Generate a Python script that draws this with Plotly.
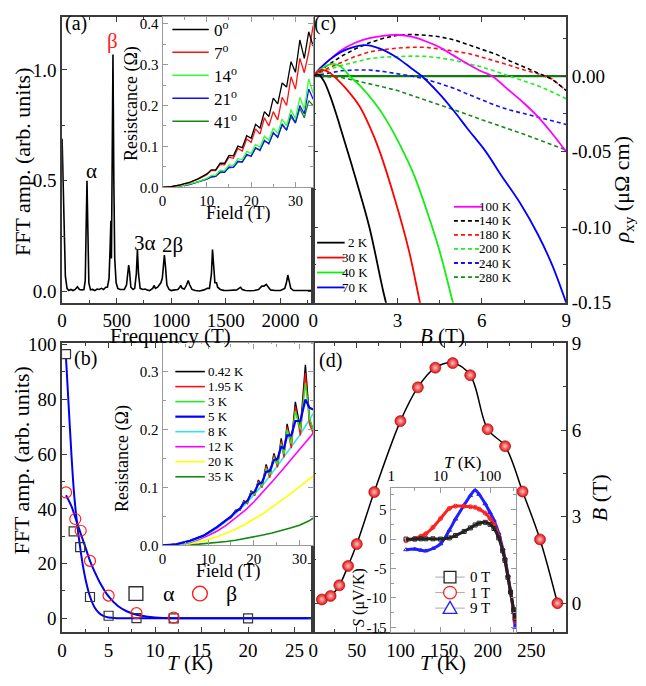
import plotly.graph_objects as go

W, H = 646, 686
def px(x): return x / W
def py(y): return 1 - y / H

FONT = "Liberation Serif, Times New Roman, Times, serif"

# ---------------- DATA ----------------
# (a) FFT spectrum
fft_freq = [0, 10, 20, 30, 45, 60, 80, 100, 120, 140, 160, 180, 200,
            212, 220, 228, 236, 245, 260, 280, 300, 320, 340, 360, 380, 400, 415,
            430, 440, 447, 452, 458, 466, 474, 482, 495, 510, 530, 550, 570, 590,
            602, 610, 618, 630, 650, 665, 680, 690, 700, 715, 740, 760, 780, 800,
            830, 842, 855, 875, 890, 905, 918, 928, 937, 946, 960, 980, 1000, 1030, 1060,
            1078, 1087, 1100, 1120, 1140, 1155, 1170, 1190, 1220, 1260, 1300, 1330, 1350,
            1368, 1378, 1388, 1400, 1415, 1425, 1450, 1480, 1520, 1560, 1600, 1620, 1635,
            1650, 1680, 1720, 1760, 1800, 1830, 1850, 1870, 1890, 1910, 1950, 2000, 2040,
            2055, 2068, 2080, 2095, 2120, 2160, 2200, 2240, 2280]
fft_amp = [0.69, 0.45, 0.2, 0.07, 0.015, 0.005, 0.01, 0.005, 0.01, 0.022, 0.01, 0.008, 0.01,
           0.05, 0.28, 0.5, 0.28, 0.04, 0.008, 0.01, 0.005, 0.012, 0.01, 0.015, 0.01, 0.02, 0.02,
           0.06, 0.2, 0.32, 0.15, 0.5, 1.07, 0.5, 0.15, 0.04, 0.015, 0.01, 0.01, 0.01, 0.03,
           0.09, 0.12, 0.09, 0.02, 0.01, 0.015, 0.08, 0.19, 0.08, 0.015, 0.01, 0.012, 0.008, 0.005,
           0.015, 0.028, 0.015, 0.02, 0.03, 0.04, 0.06, 0.12, 0.165, 0.12, 0.03, 0.01, 0.005, 0.008, 0.01,
           0.02, 0.028, 0.015, 0.012, 0.03, 0.05, 0.03, 0.01, 0.005, 0.003, 0.008, 0.015, 0.015,
           0.08, 0.19, 0.12, 0.04, 0.04, 0.02, 0.01, 0.006, 0.005, 0.005, 0.008, 0.015, 0.02,
           0.01, 0.005, 0.004, 0.005, 0.01, 0.025, 0.025, 0.033, 0.02, 0.008, 0.005, 0.005, 0.015,
           0.04, 0.075, 0.05, 0.015, 0.005, 0.004, 0.006, 0.005, 0.005]
fft_labels = ["α", "β", "3α", "2β"]
fft_label_x = [265, 466, 757, 1015]
fft_label_y = [0.545, 1.13, 0.22, 0.21]

# (a) inset: resistance vs field at several angles
ang_field = [0, 2, 4, 6, 8, 10, 11, 12, 13, 14, 15, 16, 17, 18, 19, 20, 21, 22,
             23, 24, 25, 26, 27, 28, 29, 30, 31, 32, 33, 34]
r_0deg = [0, 0.002, 0.006, 0.012, 0.021, 0.033, 0.043, 0.043, 0.059, 0.059, 0.078, 0.077,
          0.101, 0.097, 0.126, 0.12, 0.154, 0.145, 0.185, 0.173, 0.218, 0.204, 0.255, 0.245,
          0.307, 0.281, 0.36, 0.315, 0.38, 0.345]
r_7deg = [0, 0.002, 0.006, 0.011, 0.02, 0.031, 0.041, 0.041, 0.056, 0.055, 0.074, 0.071,
          0.095, 0.089, 0.118, 0.11, 0.143, 0.13, 0.17, 0.15, 0.185, 0.165, 0.22, 0.2,
          0.27, 0.24, 0.315, 0.28, 0.33, 0.395]
r_14deg = [0, 0.001, 0.004, 0.008, 0.014, 0.022, 0.029, 0.03, 0.042, 0.041, 0.055, 0.054,
           0.07, 0.068, 0.088, 0.083, 0.105, 0.098, 0.125, 0.115, 0.145, 0.132, 0.167, 0.15,
           0.19, 0.168, 0.22, 0.19, 0.265, 0.23]
r_21deg = [0, 0.001, 0.0035, 0.007, 0.013, 0.02, 0.026, 0.027, 0.038, 0.037, 0.05, 0.049,
           0.064, 0.062, 0.081, 0.076, 0.097, 0.09, 0.115, 0.106, 0.134, 0.122, 0.155, 0.14,
           0.178, 0.158, 0.2, 0.18, 0.24, 0.215]
r_41deg = [0, 0.001, 0.0035, 0.007, 0.013, 0.02, 0.025, 0.027, 0.036, 0.037, 0.048, 0.049,
           0.062, 0.062, 0.078, 0.077, 0.095, 0.092, 0.113, 0.108, 0.132, 0.124, 0.152, 0.14,
           0.172, 0.157, 0.193, 0.17, 0.212, 0.2]
ang_labels = ["0<sup>o</sup>", "7<sup>o</sup>", "14<sup>o</sup>", "21<sup>o</sup>", "41<sup>o</sup>"]

# (b) FFT amplitude vs temperature
alpha_T = [0.42, 1.24, 1.94, 3.0, 5.0, 8.0, 12.0, 20.0]
alpha_amp = [96.5, 31.8, 26.0, 7.8, 0.95, 0.1, 0.0, 0.0]
beta_T = [0.42, 1.42, 2.0, 3.0, 5.0, 8.0, 12.0]
beta_amp = [46.0, 36.3, 32.0, 21.0, 8.3, 1.9, 0.3]
alpha_fit_T = [0.42, 0.7, 1.0, 1.3, 1.6, 1.9, 2.2, 2.6, 3.0, 3.5, 4.0, 4.5, 5.0, 6.0, 8.0, 27.0]
alpha_fit = [95, 78, 60, 45, 35, 27, 20, 13, 8, 4, 1.9, 0.8, 0.3, 0.05, 0, 0]
beta_fit_T = [0.42, 1.0, 1.5, 2.0, 2.5, 3.0, 3.5, 4.0, 5.0, 6.0, 7.0, 8.0, 9.0, 10.0, 12.0, 15.0, 27.0]
beta_fit = [45, 41, 36, 31, 26, 21, 17, 13.5, 8, 4.5, 2.5, 1.3, 0.7, 0.35, 0.08, 0, 0]
ab_labels = ["α", "β"]

# (b) inset: resistance vs field at several temperatures
b_osc_field = [0, 3, 6, 9, 12, 14, 15, 16, 17, 17.8, 18.6, 19.4, 20.2, 21.0, 21.8, 22.7,
               23.5, 24.4, 25.2, 26.0, 26.6, 27.3, 28.2, 29.1, 30.2, 31.3, 32.2, 33.0]
r_042K = [0, 0.002, 0.008, 0.017, 0.032, 0.044, 0.048, 0.061, 0.061, 0.077, 0.073, 0.094,
          0.088, 0.113, 0.102, 0.14, 0.12, 0.159, 0.139, 0.185, 0.157, 0.21, 0.175, 0.248,
          0.201, 0.312, 0.218, 0.2]
r_195K = [0, 0.002, 0.008, 0.017, 0.032, 0.044, 0.048, 0.06, 0.061, 0.076, 0.072, 0.093,
          0.086, 0.111, 0.1, 0.137, 0.117, 0.156, 0.135, 0.18, 0.152, 0.205, 0.168, 0.24,
          0.19, 0.298, 0.21, 0.194]
r_3K = [0, 0.002, 0.008, 0.017, 0.032, 0.044, 0.049, 0.059, 0.062, 0.075, 0.074, 0.091,
        0.088, 0.108, 0.103, 0.133, 0.122, 0.152, 0.14, 0.176, 0.158, 0.2, 0.176, 0.232,
        0.2, 0.28, 0.22, 0.2]
r_5K = [0, 0.002, 0.008, 0.017, 0.032, 0.044, 0.05, 0.058, 0.064, 0.073, 0.077, 0.089,
        0.093, 0.106, 0.109, 0.127, 0.129, 0.147, 0.15, 0.17, 0.168, 0.19, 0.19, 0.215,
        0.215, 0.252, 0.238, 0.235]
b_smooth_field = [0, 2, 4, 6, 8, 10, 12, 14, 16, 18, 20, 22, 24, 26, 28, 30, 32, 33]
r_8K = [0, 0.0005, 0.002, 0.006, 0.012, 0.02, 0.03, 0.042, 0.055, 0.07, 0.087, 0.105,
        0.125, 0.147, 0.168, 0.19, 0.215, 0.228]
r_12K = [0, 0.0005, 0.002, 0.005, 0.01, 0.017, 0.025, 0.035, 0.047, 0.06, 0.075, 0.092,
         0.11, 0.128, 0.147, 0.167, 0.185, 0.194]
r_20K = [0, 0.0003, 0.0013, 0.003, 0.006, 0.01, 0.015, 0.021, 0.028, 0.036, 0.045, 0.055,
         0.066, 0.077, 0.089, 0.101, 0.113, 0.12]
r_35K = [0, 0.0001, 0.0005, 0.0012, 0.0022, 0.0035, 0.005, 0.0068, 0.009, 0.0115, 0.0145,
         0.0178, 0.0215, 0.0255, 0.03, 0.035, 0.042, 0.047]
temp_labels_b = ["0.42 K", "1.95 K", "3 K", "5 K", "8 K", "12 K", "20 K", "35 K"]

# (c) Hall resistivity vs field
b_2K = [0, 0.2, 0.4, 0.6, 0.8, 1.0, 1.5, 2.0, 2.5, 2.8]
rho_2K = [0, 0.001, -0.004, -0.013, -0.024, -0.036, -0.067, -0.1, -0.143, -0.165]
b_30K = [0, 0.3, 0.6, 0.9, 1.2, 1.65, 2.0, 2.35, 2.93, 3.4, 3.8, 4.0]
rho_30K = [0, 0.004, 0.002, -0.003, -0.009, -0.02, -0.033, -0.049, -0.083, -0.115, -0.15, -0.167]
b_40K = [0, 0.3, 0.7, 1.0, 1.3, 1.7, 2.2, 2.6, 3.1, 3.6, 4.04, 4.5, 5.0, 5.2]
rho_40K = [0, 0.005, 0.008, 0.006, 0.0, -0.007, -0.018, -0.029, -0.046, -0.066, -0.089, -0.116, -0.152, -0.166]
b_70K = [0, 0.3, 0.6, 1.0, 1.4, 1.87, 2.4, 3.0, 3.5, 3.86, 4.5, 5.0, 5.5, 6.14, 6.7, 7.36, 8.0, 8.5, 9.0]
rho_70K = [0, 0.006, 0.011, 0.016, 0.019, 0.0205, 0.018, 0.012, 0.005, 0.0, -0.012, -0.023,
           -0.035, -0.05, -0.066, -0.084, -0.105, -0.125, -0.15]
b_100K = [0, 0.3, 0.6, 1.0, 1.5, 2.0, 2.9, 3.5, 4.0, 4.5, 5.0, 5.5, 6.0, 6.36, 7.0, 7.5, 8.0, 8.5, 9.0]
rho_100K = [0, 0.006, 0.011, 0.017, 0.022, 0.025, 0.0273, 0.026, 0.023, 0.019, 0.0135, 0.008,
            0.003, 0.0, -0.01, -0.018, -0.027, -0.038, -0.05]
b_dash = [0, 0.5, 1.0, 1.5, 2.0, 2.5, 3.0, 3.5, 4.0, 4.5, 5.0, 5.5, 6.0, 6.5, 7.0, 7.5, 8.0, 8.5, 9.0]
rho_140K = [0, 0.007, 0.013, 0.018, 0.022, 0.025, 0.027, 0.0275, 0.027, 0.026, 0.024, 0.021,
            0.018, 0.0145, 0.01, 0.006, 0.002, -0.002, -0.0096]
rho_180K = [0, 0.005, 0.009, 0.013, 0.016, 0.0175, 0.0185, 0.019, 0.019, 0.018, 0.0165, 0.015,
            0.0125, 0.01, 0.007, 0.004, 0.0015, -0.002, -0.0095]
rho_200K = [0, 0.004, 0.007, 0.0095, 0.0115, 0.0125, 0.013, 0.0132, 0.013, 0.012, 0.0105,
            0.0085, 0.006, 0.003, 0.0, -0.003, -0.0065, -0.0105, -0.015]
rho_240K = [0, 0.002, 0.0035, 0.004, 0.004, 0.003, 0.0015, 0.0, -0.002, -0.005, -0.008, -0.012,
            -0.016, -0.0195, -0.0225, -0.025, -0.0275, -0.03, -0.032]
rho_280K = [0, -0.0003, -0.001, -0.003, -0.005, -0.0073, -0.0096, -0.0128, -0.016, -0.019,
            -0.022, -0.0255, -0.029, -0.032, -0.035, -0.0385, -0.042, -0.0455, -0.049]
b_flat = [0, 9]
rho_flat = [0, 0]
hall_labels_1 = ["2 K", "30 K", "40 K", "70 K"]
hall_labels_2 = ["100 K", "140 K", "180 K", "200 K", "240 K", "280 K"]

# (d) sign-change field vs temperature
phase_T = [10, 20, 30, 40, 50, 70, 100, 120, 140, 160, 180, 200, 220, 240, 260, 280]
phase_B = [0.13, 0.25, 0.62, 1.29, 2.05, 3.85, 6.31, 7.48, 8.16, 8.32, 7.9, 6.03, 5.44, 3.87, 2.21, 0.0]

# (d) inset: Seebeck coefficient
seebeck_T = [2, 3, 4, 5, 7, 10, 15, 20, 30, 40, 50, 60, 80, 100, 120, 150, 180, 200, 230, 260, 300, 320]
S_0T = [0, 0, 0.05, 0.05, 0.05, 0, 0.2, 0.6, 1.3, 1.9, 2.4, 2.7, 2.85, 2.5, 1.8, 0.2, -2.0,
        -3.6, -6.5, -9.0, -12.0, -13.5]
S_1T = [-0.3, 0.1, 0.5, 0.9, 2.0, 3.5, 5.2, 5.6, 5.6, 5.5, 5.4, 5.1, 4.4, 3.5, 2.5, 0.5, -1.8,
        -3.5, -6.3, -9.0, -12.3, -14.0]
S_9T = [-1.8, -1.7, -1.9, -2.0, -1.6, -0.8, 1.5, 3.4, 5.8, 7.4, 8.3, 7.6, 6.0, 4.5, 3.2, 1.0,
        -1.6, -3.2, -6.2, -9.0, -12.5, -15.0]
seebeck_labels = ["0 T", "1 T", "9 T"]

# ---------------- FIGURE ----------------
fig = go.Figure()

def line(x, y, color, xa, ya, width=1.6, dash="solid", shape="linear"):
    fig.add_trace(go.Scatter(x=x, y=y, mode="lines", xaxis=xa, yaxis=ya,
                             line=dict(color=color, width=width, dash=dash, shape=shape),
                             showlegend=False, hoverinfo="skip"))

# (a)
line(fft_freq, fft_amp, "black", "x", "y", width=1.6)
# (c)
DASH = "4px,3px"
line(b_flat, rho_flat, "#137a13", "x2", "y2", width=2.2)
line(b_dash, rho_280K, "#178a17", "x2", "y2", width=1.6, dash=DASH)
line(b_dash, rho_240K, "#1010ff", "x2", "y2", width=1.6, dash=DASH)
line(b_dash, rho_200K, "#22ee22", "x2", "y2", width=1.6, dash=DASH)
line(b_dash, rho_180K, "#ff1010", "x2", "y2", width=1.6, dash=DASH)
line(b_dash, rho_140K, "black", "x2", "y2", width=1.6, dash=DASH)
line(b_100K, rho_100K, "#ff00ff", "x2", "y2", width=1.8, shape="spline")
line(b_70K, rho_70K, "#0000ff", "x2", "y2", width=1.8, shape="spline")
line(b_40K, rho_40K, "#11ee11", "x2", "y2", width=1.8, shape="spline")
line(b_30K, rho_30K, "#ff0000", "x2", "y2", width=1.8, shape="spline")
line(b_2K, rho_2K, "black", "x2", "y2", width=1.8, shape="spline")
# (b)
line(alpha_fit_T, alpha_fit, "#0000ee", "x3", "y3", width=2, shape="spline")
line(beta_fit_T, beta_fit, "#0000ee", "x3", "y3", width=2, shape="spline")
fig.add_trace(go.Scatter(x=alpha_T, y=alpha_amp, mode="markers", xaxis="x3", yaxis="y3",
                         marker=dict(symbol="square-open", size=9, color="#333", line=dict(width=1.2)),
                         showlegend=False))
fig.add_trace(go.Scatter(x=beta_T, y=beta_amp, mode="markers", xaxis="x3", yaxis="y3",
                         marker=dict(symbol="circle-open", size=11, color="#ff2020", line=dict(width=1.2)),
                         showlegend=False))
# (d)
fig.add_trace(go.Scatter(x=phase_T, y=phase_B, mode="lines+markers", xaxis="x4", yaxis="y4",
                         line=dict(color="black", width=1.5, shape="spline", smoothing=1.0),
                         marker=dict(size=11, color="#e01010",
                                     gradient=dict(type="radial", color="#ffc0c0"),
                                     line=dict(width=0.6, color="#b00000")),
                         showlegend=False))
# (a) inset
inset_a_colors = ["black", "#ff1010", "#33ff33", "#1010ff", "#118811"]
for vals, c in zip([r_0deg, r_7deg, r_14deg, r_21deg, r_41deg][::-1], inset_a_colors[::-1]):
    line(ang_field, vals, c, "x5", "y5", width=1.3)
# (b) inset
inset_b_colors = ["black", "#ff1010", "#22ee22", "#0000ff", "#33e6e6", "#ff00ff", "#ffff00", "#118811"]
line(b_smooth_field, r_35K, "#118811", "x6", "y6", width=1.6)
line(b_smooth_field, r_20K, "#ffff00", "x6", "y6", width=1.6)
line(b_smooth_field, r_12K, "#ff00ff", "x6", "y6", width=1.6)
line(b_smooth_field, r_8K, "#33e6e6", "x6", "y6", width=1.6)
line(b_osc_field, r_042K, "black", "x6", "y6", width=1.4)
line(b_osc_field, r_195K, "#ff1010", "x6", "y6", width=1.4)
line(b_osc_field, r_3K, "#22ee22", "x6", "y6", width=1.4)
line(b_osc_field, r_5K, "#0000ff", "x6", "y6", width=2.2)
# (d) inset
for vals, c, sym in [(S_0T, "#222", "square-open"), (S_1T, "#ff2020", "circle-open"),
                     (S_9T, "#2020ff", "triangle-up-open")][::-1]:
    fig.add_trace(go.Scatter(x=seebeck_T, y=vals, mode="lines+markers", xaxis="x7", yaxis="y7",
                             line=dict(color=c, width=3, shape="spline"),
                             marker=dict(symbol=sym, size=4, color=c, line=dict(width=1)),
                             showlegend=False, hoverinfo="skip"))

# ---------------- AXES ----------------
MAIN_LINE = "#3a3a3a"
INSET_LINE = "#9a9a9a"

def axis(domain, rng, anchor, color=MAIN_LINE, size=19, minor=None, **kw):
    d = dict(domain=domain, range=rng, anchor=anchor, showline=True, linecolor=color,
             linewidth=1.5 if color == MAIN_LINE else 1.2, mirror="ticks", ticks="inside",
             ticklen=5, tickwidth=1.2, tickcolor=color, showgrid=False, zeroline=False,
             tickfont=dict(family=FONT, size=size, color="black"))
    if minor is not None:
        d["minor"] = dict(ticks="inside", ticklen=3, tickwidth=1, tickcolor=color, dtick=minor,
                          showgrid=False)
    d.update(kw)
    return d

dom_ax = [px(58), px(313)]
dom_cx = [px(313), px(570)]
dom_top = [py(302), py(7)]
dom_bot = [py(641.7), py(344)]

fig.update_layout(
    xaxis=axis(dom_ax, [0, 2300], "y", minor=250, dtick=500, tick0=0),
    yaxis=axis(dom_top, [-0.05, 1.24], "x", minor=0.25, tickvals=[0, 0.5, 1.0],
               ticktext=["0.0", "0.5", "1.0"]),
    xaxis2=axis(dom_cx, [0, 9], "y2", minor=1.5, dtick=3, tick0=0),
    yaxis2=axis(dom_top, [-0.15, 0.0392], "x2", minor=0.025, side="right",
                tickvals=[0, -0.05, -0.10, -0.15], ticktext=["0.00", "-0.05", "-0.10", "-0.15"]),
    xaxis3=axis(dom_ax, [0, 27], "y3", minor=2.5, dtick=5, tick0=0),
    yaxis3=axis(dom_bot, [-5, 100.4], "x3", minor=10, dtick=20, tick0=0),
    xaxis4=axis(dom_cx, [0, 290], "y4", minor=25, dtick=50, tick0=0),
    yaxis4=axis(dom_bot, [-1, 9.0], "x4", minor=1.5, dtick=3, tick0=0, side="right"),
    xaxis5=axis([px(160), px(313)], [0, 34], "y5", color=INSET_LINE, size=15, minor=5, dtick=10, tick0=0),
    yaxis5=axis([py(183), py(7)], [0, 0.4166], "x5", color=INSET_LINE, size=15, minor=0.05,
                tickvals=[0, 0.1, 0.2, 0.3, 0.4], ticktext=["0.0", "0.1", "0.2", "0.3", "0.4"]),
    xaxis6=axis([px(160), px(313)], [0, 33], "y6", color=INSET_LINE, size=15, minor=5, dtick=10, tick0=0),
    yaxis6=axis([py(552.3), py(344)], [0, 0.349], "x6", color=INSET_LINE, size=15, minor=0.05,
                tickvals=[0, 0.1, 0.2, 0.3], ticktext=["0.0", "0.1", "0.2", "0.3"]),
    xaxis7=axis([px(391.7), px(519.3)], [-0.01, 2.53], "y7", color=INSET_LINE, size=15, type="log",
                side="top", tickvals=[1, 10, 100], ticktext=["1", "10", "100"]),
    yaxis7=axis([py(641.7), py(492.7)], [-15.8, 8.75], "x7", color=INSET_LINE, size=15, minor=2.5,
                tickvals=[5, 0, -5, -10, -15], ticktext=["5", "0", "-5", "-10", "-15"]),
)
fig.layout.xaxis7.minor = dict(ticks="inside", ticklen=3, tickwidth=1, tickcolor=INSET_LINE,
                               tickvals=[3, 30, 300])

# ---------------- TEXT ----------------
ann = []
def text(x, y, s, size=20, color="black", angle=0, xanchor="center", yanchor="middle", family=FONT):
    ann.append(dict(x=px(x), y=py(y), xref="paper", yref="paper", text=s, showarrow=False,
                    font=dict(family=family, size=size, color=color), textangle=angle,
                    xanchor=xanchor, yanchor=yanchor))

# axis titles
text(17, 157, "FFT amp. (arb. units)", 22, angle=-90)
text(168, 336, "Frequency (T)", 21)
text(444, 336, "<i>B</i> (T)", 21)
text(628, 185, "<i>ρ</i><sub>xy</sub> (μΩ cm)", 22, angle=-90)
text(17, 465, "FFT amp. (arb. units)", 22, angle=-90)
text(188, 674, "<i>T</i> (K)", 21)
text(445, 674, "<i>T</i> (K)", 21)
text(604, 503, "<i>B</i> (T)", 22, angle=-90)
# inset titles
text(237, 210, "Field (T)", 18)
text(128, 97, "Resistcance (Ω)", 18, angle=-90)
text(227, 579, "Field (T)", 18)
text(120, 463, "Resistance (Ω)", 18, angle=-90)
text(465, 467, "<i>T</i> (K)", 17)
text(360, 606, "<i>S</i> (μV/K)", 16, angle=-90)
# panel labels
text(72, 14, "(a)", 20)
text(325, 14, "(c)", 20)
text(82, 360, "(b)", 20)
text(331, 362, "(d)", 20)
# FFT peak labels
for s, fx, fy in zip(fft_labels, fft_label_x, fft_label_y):
    ann.append(dict(x=fx, y=fy, xref="x", yref="y", text=s, showarrow=False,
                    font=dict(family=FONT, size=21, color="#ff2020" if s == "β" else "black")))

shapes = []
def seg(x0, x1, y, color, width=1.6, dash="solid"):
    shapes.append(dict(type="line", xref="paper", yref="paper", x0=px(x0), x1=px(x1),
                       y0=py(y), y1=py(y), line=dict(color=color, width=width, dash=dash)))

# (a) inset legend
for i, (lab, c) in enumerate(zip(ang_labels, inset_a_colors)):
    y = 20 + i * 23.7
    seg(170, 207, y, c, 1.5)
    text(210, y, lab, 17, xanchor="left")
# (b) inset legend
for i, (lab, c) in enumerate(zip(temp_labels_b, inset_b_colors)):
    y = 373 + i * 15.5
    seg(173, 203, y, c, 2.2 if lab == "5 K" else 1.6)
    text(204, y, lab, 13, xanchor="left")
# (c) legends
c1_colors = ["black", "#ff0000", "#11ee11", "#0000ff"]
for i, (lab, c) in enumerate(zip(hall_labels_1, c1_colors)):
    y = 240 + i * 15.4
    seg(317, 345, y, c, 1.8)
    text(371, y, lab, 13, xanchor="right")
c2_colors = ["#ff00ff", "black", "#ff1010", "#22ee22", "#1010ff", "#178a17"]
for i, (lab, c) in enumerate(zip(hall_labels_2, c2_colors)):
    y = 203 + i * 14.5
    seg(456, 485, y, c, 1.8, "solid" if i == 0 else "4px,3px")
    text(517, y, lab, 13, xanchor="right")
# (b) main legend
shapes.append(dict(type="rect", xref="paper", yref="paper", x0=px(126), x1=px(140),
                   y0=py(609), y1=py(595), line=dict(color="#333", width=1.4)))
text(167, 602, ab_labels[0], 22)
shapes.append(dict(type="circle", xref="paper", yref="paper", x0=px(190.5), x1=px(205.5),
                   y0=py(609.5), y1=py(594.5), line=dict(color="#ff2020", width=1.4)))
text(230, 602, ab_labels[1], 22)
# (d) inset legend
leg_d_colors = ["#222", "#ff2020", "#2020ff"]
for i, (lab, c) in enumerate(zip(seebeck_labels, leg_d_colors)):
    y = 585 + i * 16
    seg(437, 467, y, "#aaaaaa", 1)
    if i == 0:
        shapes.append(dict(type="rect", xref="paper", yref="paper", x0=px(446), x1=px(458),
                           y0=py(y + 6), y1=py(y - 6), fillcolor="white", line=dict(color=c, width=1.3)))
    elif i == 1:
        shapes.append(dict(type="circle", xref="paper", yref="paper", x0=px(445.5), x1=px(458.5),
                           y0=py(y + 6.5), y1=py(y - 6.5), fillcolor="white", line=dict(color=c, width=1.3)))
    else:
        path = "M {} {} L {} {} L {} {} Z".format(px(445), py(y + 5.5), px(459), py(y + 5.5),
                                                  px(452), py(y - 7))
        shapes.append(dict(type="path", xref="paper", yref="paper", path=path, fillcolor="white",
                           line=dict(color=c, width=1.3)))
    text(470, y, lab, 15, xanchor="left")

fig.update_layout(width=W, height=H, margin=dict(l=0, r=0, t=0, b=0),
                  paper_bgcolor="white", plot_bgcolor="white", showlegend=False,
                  font=dict(family=FONT, size=18, color="black"),
                  annotations=ann, shapes=shapes)

fig.write_html("out.html", config={"displayModeBar": False},
               post_script="document.body.style.margin='0';document.body.style.padding='0';")
